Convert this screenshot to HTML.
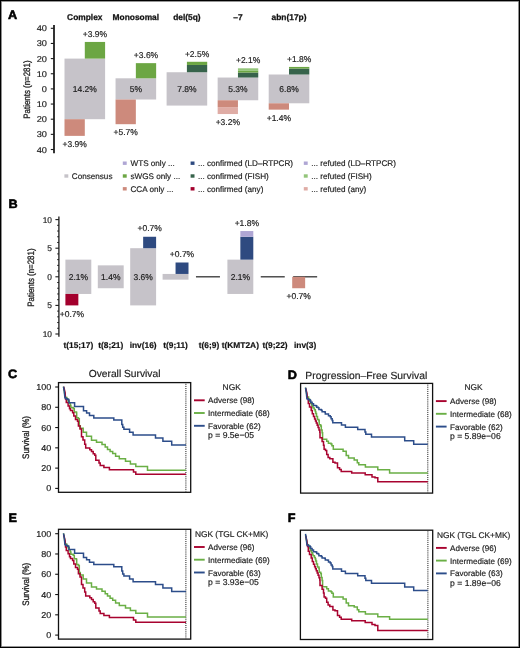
<!DOCTYPE html>
<html><head><meta charset="utf-8"><title>Figure</title>
<style>
html,body{margin:0;padding:0;background:#fff;}
body{width:520px;height:648px;overflow:hidden;position:relative;}
.frame{position:absolute;left:0;top:0;width:518px;height:646px;border:1px solid #000;box-shadow:inset 0 0 0 0.8px rgba(0,0,0,0.55);}
svg{position:absolute;left:0;top:0;filter:blur(0.3px);}
text{font-family:"Liberation Sans", sans-serif;text-rendering:geometricPrecision;}
</style></head><body>
<svg width="520" height="648" viewBox="0 0 520 648" shape-rendering="auto">
<text transform="translate(8.00,18.80) scale(1.04,1)" font-size="12.2" text-anchor="start" font-weight="bold" fill="#000" stroke="#000" stroke-width="0.55" >A</text>
<line x1="54.00" y1="25.00" x2="54.00" y2="153.20" stroke="#000" stroke-width="1.6" />
<line x1="50.80" y1="28.30" x2="54.00" y2="28.30" stroke="#1a1a1a" stroke-width="1.1" />
<text transform="translate(47.00,31.30) scale(1.1,1)" font-size="8.4" text-anchor="end" font-weight="normal" fill="#1e1e1e" stroke="#1e1e1e" stroke-width="0.18" >40</text>
<line x1="50.80" y1="43.45" x2="54.00" y2="43.45" stroke="#1a1a1a" stroke-width="1.1" />
<text transform="translate(47.00,46.45) scale(1.1,1)" font-size="8.4" text-anchor="end" font-weight="normal" fill="#1e1e1e" stroke="#1e1e1e" stroke-width="0.18" >30</text>
<line x1="50.80" y1="58.60" x2="54.00" y2="58.60" stroke="#1a1a1a" stroke-width="1.1" />
<text transform="translate(47.00,61.60) scale(1.1,1)" font-size="8.4" text-anchor="end" font-weight="normal" fill="#1e1e1e" stroke="#1e1e1e" stroke-width="0.18" >20</text>
<line x1="50.80" y1="73.75" x2="54.00" y2="73.75" stroke="#1a1a1a" stroke-width="1.1" />
<text transform="translate(47.00,76.75) scale(1.1,1)" font-size="8.4" text-anchor="end" font-weight="normal" fill="#1e1e1e" stroke="#1e1e1e" stroke-width="0.18" >10</text>
<line x1="50.80" y1="88.90" x2="54.00" y2="88.90" stroke="#1a1a1a" stroke-width="1.1" />
<text transform="translate(47.00,91.90) scale(1.1,1)" font-size="8.4" text-anchor="end" font-weight="normal" fill="#1e1e1e" stroke="#1e1e1e" stroke-width="0.18" >0</text>
<line x1="50.80" y1="104.05" x2="54.00" y2="104.05" stroke="#1a1a1a" stroke-width="1.1" />
<text transform="translate(47.00,107.05) scale(1.1,1)" font-size="8.4" text-anchor="end" font-weight="normal" fill="#1e1e1e" stroke="#1e1e1e" stroke-width="0.18" >10</text>
<line x1="50.80" y1="119.20" x2="54.00" y2="119.20" stroke="#1a1a1a" stroke-width="1.1" />
<text transform="translate(47.00,122.20) scale(1.1,1)" font-size="8.4" text-anchor="end" font-weight="normal" fill="#1e1e1e" stroke="#1e1e1e" stroke-width="0.18" >20</text>
<line x1="50.80" y1="134.35" x2="54.00" y2="134.35" stroke="#1a1a1a" stroke-width="1.1" />
<text transform="translate(47.00,137.35) scale(1.1,1)" font-size="8.4" text-anchor="end" font-weight="normal" fill="#1e1e1e" stroke="#1e1e1e" stroke-width="0.18" >30</text>
<line x1="50.80" y1="149.50" x2="54.00" y2="149.50" stroke="#1a1a1a" stroke-width="1.1" />
<text transform="translate(47.00,152.50) scale(1.1,1)" font-size="8.4" text-anchor="end" font-weight="normal" fill="#1e1e1e" stroke="#1e1e1e" stroke-width="0.18" >40</text>
<text transform="translate(30.0,89.6) rotate(-90) scale(0.85,1)" font-size="9.3" text-anchor="middle" fill="#1e1e1e" stroke="#1e1e1e" stroke-width="0.3">Patients (n=281)</text>
<rect x="64.50" y="58.60" width="40.60" height="60.60" fill="#c6c3c9"/>
<text x="84.80" y="19.60" font-size="8.4" text-anchor="middle" font-weight="bold" fill="#111" stroke="#111" stroke-width="0.25" >Complex</text>
<text x="84.80" y="92.00" font-size="8.5" text-anchor="middle" font-weight="normal" fill="#1e1e1e" stroke="#1e1e1e" stroke-width="0.18" >14.2%</text>
<rect x="84.80" y="41.94" width="20.30" height="16.66" fill="#6ca643"/>
<text x="94.95" y="36.84" font-size="8.5" text-anchor="middle" font-weight="normal" fill="#1e1e1e" stroke="#1e1e1e" stroke-width="0.18" >+3.9%</text>
<rect x="64.50" y="119.20" width="20.30" height="16.67" fill="#cd8a7c"/>
<text x="74.65" y="147.06" font-size="8.5" text-anchor="middle" font-weight="normal" fill="#1e1e1e" stroke="#1e1e1e" stroke-width="0.18" >+3.9%</text>
<rect x="115.55" y="78.30" width="40.60" height="21.21" fill="#c6c3c9"/>
<text x="135.85" y="19.60" font-size="8.4" text-anchor="middle" font-weight="bold" fill="#111" stroke="#111" stroke-width="0.25" >Monosomal</text>
<text x="135.85" y="92.00" font-size="8.5" text-anchor="middle" font-weight="normal" fill="#1e1e1e" stroke="#1e1e1e" stroke-width="0.18" >5%</text>
<rect x="135.85" y="63.15" width="20.30" height="15.15" fill="#6ca643"/>
<text x="146.00" y="58.05" font-size="8.5" text-anchor="middle" font-weight="normal" fill="#1e1e1e" stroke="#1e1e1e" stroke-width="0.18" >+3.6%</text>
<rect x="115.55" y="99.51" width="20.30" height="24.69" fill="#cd8a7c"/>
<text x="125.70" y="135.40" font-size="8.5" text-anchor="middle" font-weight="normal" fill="#1e1e1e" stroke="#1e1e1e" stroke-width="0.18" >+5.7%</text>
<rect x="166.60" y="72.24" width="40.60" height="33.33" fill="#c6c3c9"/>
<text x="186.90" y="19.60" font-size="8.4" text-anchor="middle" font-weight="bold" fill="#111" stroke="#111" stroke-width="0.25" >del(5q)</text>
<text x="186.90" y="92.00" font-size="8.5" text-anchor="middle" font-weight="normal" fill="#1e1e1e" stroke="#1e1e1e" stroke-width="0.18" >7.8%</text>
<rect x="186.90" y="64.96" width="20.30" height="7.27" fill="#37634b"/>
<rect x="186.90" y="61.78" width="20.30" height="3.18" fill="#6ca643"/>
<text x="197.05" y="56.68" font-size="8.5" text-anchor="middle" font-weight="normal" fill="#1e1e1e" stroke="#1e1e1e" stroke-width="0.18" >+2.5%</text>
<rect x="217.65" y="77.54" width="40.60" height="22.72" fill="#c6c3c9"/>
<text x="237.95" y="19.60" font-size="8.4" text-anchor="middle" font-weight="bold" fill="#111" stroke="#111" stroke-width="0.25" >&#8211;7</text>
<text x="237.95" y="92.00" font-size="8.5" text-anchor="middle" font-weight="normal" fill="#1e1e1e" stroke="#1e1e1e" stroke-width="0.18" >5.3%</text>
<rect x="237.95" y="72.54" width="20.30" height="5.00" fill="#37634b"/>
<rect x="237.95" y="70.87" width="20.30" height="1.67" fill="#6ca643"/>
<rect x="237.95" y="68.30" width="20.30" height="2.58" fill="#93c57a"/>
<text x="248.10" y="63.20" font-size="8.5" text-anchor="middle" font-weight="normal" fill="#1e1e1e" stroke="#1e1e1e" stroke-width="0.18" >+2.1%</text>
<rect x="217.65" y="100.26" width="20.30" height="6.82" fill="#cd8a7c"/>
<rect x="217.65" y="107.08" width="20.30" height="6.97" fill="#dfaca5"/>
<text x="227.80" y="125.25" font-size="8.5" text-anchor="middle" font-weight="normal" fill="#1e1e1e" stroke="#1e1e1e" stroke-width="0.18" >+3.2%</text>
<rect x="268.70" y="74.51" width="40.60" height="28.78" fill="#c6c3c9"/>
<text x="289.00" y="19.60" font-size="8.4" text-anchor="middle" font-weight="bold" fill="#111" stroke="#111" stroke-width="0.25" >abn(17p)</text>
<text x="289.00" y="92.00" font-size="8.5" text-anchor="middle" font-weight="normal" fill="#1e1e1e" stroke="#1e1e1e" stroke-width="0.18" >6.8%</text>
<rect x="289.00" y="68.60" width="20.30" height="5.91" fill="#37634b"/>
<rect x="289.00" y="66.93" width="20.30" height="1.67" fill="#6ca643"/>
<text x="299.15" y="61.83" font-size="8.5" text-anchor="middle" font-weight="normal" fill="#1e1e1e" stroke="#1e1e1e" stroke-width="0.18" >+1.8%</text>
<rect x="268.70" y="103.29" width="20.30" height="6.36" fill="#cd8a7c"/>
<text x="278.85" y="120.86" font-size="8.5" text-anchor="middle" font-weight="normal" fill="#1e1e1e" stroke="#1e1e1e" stroke-width="0.18" >+1.4%</text>
<rect x="64.40" y="174.30" width="3.90" height="3.40" fill="#c6c3c9"/>
<text x="71.80" y="178.90" font-size="8.15" text-anchor="start" font-weight="normal" fill="#1e1e1e" stroke="#1e1e1e" stroke-width="0.18" >Consensus</text>
<rect x="122.80" y="161.50" width="3.90" height="3.40" fill="#afa6d4"/>
<text x="130.50" y="166.10" font-size="8.15" text-anchor="start" font-weight="normal" fill="#1e1e1e" stroke="#1e1e1e" stroke-width="0.18" >WTS only ...</text>
<rect x="122.80" y="174.30" width="3.90" height="3.40" fill="#6ca643"/>
<text x="130.50" y="178.90" font-size="8.15" text-anchor="start" font-weight="normal" fill="#1e1e1e" stroke="#1e1e1e" stroke-width="0.18" >sWGS only ...</text>
<rect x="122.80" y="187.10" width="3.90" height="3.40" fill="#cd8a7c"/>
<text x="130.50" y="191.70" font-size="8.15" text-anchor="start" font-weight="normal" fill="#1e1e1e" stroke="#1e1e1e" stroke-width="0.18" >CCA only ...</text>
<rect x="190.60" y="161.50" width="3.90" height="3.40" fill="#2e4a80"/>
<text x="197.90" y="166.10" font-size="8.15" text-anchor="start" font-weight="normal" fill="#1e1e1e" stroke="#1e1e1e" stroke-width="0.18" >... confirmed (LD&#8211;RTPCR)</text>
<rect x="190.60" y="174.30" width="3.90" height="3.40" fill="#37634b"/>
<text x="197.90" y="178.90" font-size="8.15" text-anchor="start" font-weight="normal" fill="#1e1e1e" stroke="#1e1e1e" stroke-width="0.18" >... confirmed (FISH)</text>
<rect x="190.60" y="187.10" width="3.90" height="3.40" fill="#a3002d"/>
<text x="197.90" y="191.70" font-size="8.15" text-anchor="start" font-weight="normal" fill="#1e1e1e" stroke="#1e1e1e" stroke-width="0.18" >... confirmed (any)</text>
<rect x="303.80" y="161.50" width="3.90" height="3.40" fill="#afa6d4"/>
<text x="311.20" y="166.10" font-size="8.15" text-anchor="start" font-weight="normal" fill="#1e1e1e" stroke="#1e1e1e" stroke-width="0.18" >... refuted (LD&#8211;RTPCR)</text>
<rect x="303.80" y="174.30" width="3.90" height="3.40" fill="#93c57a"/>
<text x="311.20" y="178.90" font-size="8.15" text-anchor="start" font-weight="normal" fill="#1e1e1e" stroke="#1e1e1e" stroke-width="0.18" >... refuted (FISH)</text>
<rect x="303.80" y="187.10" width="3.90" height="3.40" fill="#dfaca5"/>
<text x="311.20" y="191.70" font-size="8.15" text-anchor="start" font-weight="normal" fill="#1e1e1e" stroke="#1e1e1e" stroke-width="0.18" >... refuted (any)</text>
<text transform="translate(8.40,207.90) scale(1.04,1)" font-size="12.2" text-anchor="start" font-weight="bold" fill="#000" stroke="#000" stroke-width="0.55" >B</text>
<line x1="58.90" y1="216.40" x2="58.90" y2="336.80" stroke="#1a1a1a" stroke-width="1.3" />
<line x1="55.40" y1="334.00" x2="58.90" y2="334.00" stroke="#1a1a1a" stroke-width="1.1" />
<text x="52.00" y="337.00" font-size="8.4" text-anchor="end" font-weight="normal" fill="#1e1e1e" stroke="#1e1e1e" stroke-width="0.18" >10</text>
<line x1="57.20" y1="328.28" x2="58.90" y2="328.28" stroke="#1a1a1a" stroke-width="1.0" />
<line x1="57.20" y1="322.56" x2="58.90" y2="322.56" stroke="#1a1a1a" stroke-width="1.0" />
<line x1="57.20" y1="316.84" x2="58.90" y2="316.84" stroke="#1a1a1a" stroke-width="1.0" />
<line x1="57.20" y1="311.12" x2="58.90" y2="311.12" stroke="#1a1a1a" stroke-width="1.0" />
<line x1="55.40" y1="305.40" x2="58.90" y2="305.40" stroke="#1a1a1a" stroke-width="1.1" />
<text x="52.00" y="308.40" font-size="8.4" text-anchor="end" font-weight="normal" fill="#1e1e1e" stroke="#1e1e1e" stroke-width="0.18" >5</text>
<line x1="57.20" y1="299.68" x2="58.90" y2="299.68" stroke="#1a1a1a" stroke-width="1.0" />
<line x1="57.20" y1="293.96" x2="58.90" y2="293.96" stroke="#1a1a1a" stroke-width="1.0" />
<line x1="57.20" y1="288.24" x2="58.90" y2="288.24" stroke="#1a1a1a" stroke-width="1.0" />
<line x1="57.20" y1="282.52" x2="58.90" y2="282.52" stroke="#1a1a1a" stroke-width="1.0" />
<line x1="55.40" y1="276.80" x2="58.90" y2="276.80" stroke="#1a1a1a" stroke-width="1.1" />
<text x="52.00" y="279.80" font-size="8.4" text-anchor="end" font-weight="normal" fill="#1e1e1e" stroke="#1e1e1e" stroke-width="0.18" >0</text>
<line x1="57.20" y1="271.08" x2="58.90" y2="271.08" stroke="#1a1a1a" stroke-width="1.0" />
<line x1="57.20" y1="265.36" x2="58.90" y2="265.36" stroke="#1a1a1a" stroke-width="1.0" />
<line x1="57.20" y1="259.64" x2="58.90" y2="259.64" stroke="#1a1a1a" stroke-width="1.0" />
<line x1="57.20" y1="253.92" x2="58.90" y2="253.92" stroke="#1a1a1a" stroke-width="1.0" />
<line x1="55.40" y1="248.20" x2="58.90" y2="248.20" stroke="#1a1a1a" stroke-width="1.1" />
<text x="52.00" y="251.20" font-size="8.4" text-anchor="end" font-weight="normal" fill="#1e1e1e" stroke="#1e1e1e" stroke-width="0.18" >5</text>
<line x1="57.20" y1="242.48" x2="58.90" y2="242.48" stroke="#1a1a1a" stroke-width="1.0" />
<line x1="57.20" y1="236.76" x2="58.90" y2="236.76" stroke="#1a1a1a" stroke-width="1.0" />
<line x1="57.20" y1="231.04" x2="58.90" y2="231.04" stroke="#1a1a1a" stroke-width="1.0" />
<line x1="57.20" y1="225.32" x2="58.90" y2="225.32" stroke="#1a1a1a" stroke-width="1.0" />
<line x1="55.40" y1="219.60" x2="58.90" y2="219.60" stroke="#1a1a1a" stroke-width="1.1" />
<text x="52.00" y="222.60" font-size="8.4" text-anchor="end" font-weight="normal" fill="#1e1e1e" stroke="#1e1e1e" stroke-width="0.18" >10</text>
<text transform="translate(34.0,277.6) rotate(-90) scale(0.85,1)" font-size="9.3" text-anchor="middle" fill="#1e1e1e" stroke="#1e1e1e" stroke-width="0.3">Patients (n=281)</text>
<text x="78.35" y="347.90" font-size="8.4" text-anchor="middle" font-weight="bold" fill="#111" stroke="#111" stroke-width="0.18" >t(15;17)</text>
<rect x="65.40" y="259.64" width="25.90" height="34.32" fill="#c6c3c9"/>
<text x="78.35" y="279.80" font-size="8.5" text-anchor="middle" font-weight="normal" fill="#1e1e1e" stroke="#1e1e1e" stroke-width="0.18" >2.1%</text>
<rect x="65.40" y="293.96" width="12.95" height="11.44" fill="#a3002d"/>
<text x="71.88" y="316.50" font-size="8.5" text-anchor="middle" font-weight="normal" fill="#1e1e1e" stroke="#1e1e1e" stroke-width="0.18" >+0.7%</text>
<text x="110.75" y="347.90" font-size="8.4" text-anchor="middle" font-weight="bold" fill="#111" stroke="#111" stroke-width="0.18" >t(8;21)</text>
<rect x="97.80" y="265.36" width="25.90" height="22.88" fill="#c6c3c9"/>
<text x="110.75" y="279.80" font-size="8.5" text-anchor="middle" font-weight="normal" fill="#1e1e1e" stroke="#1e1e1e" stroke-width="0.18" >1.4%</text>
<text x="143.15" y="347.90" font-size="8.4" text-anchor="middle" font-weight="bold" fill="#111" stroke="#111" stroke-width="0.18" >inv(16)</text>
<rect x="130.20" y="248.20" width="25.90" height="57.20" fill="#c6c3c9"/>
<text x="143.15" y="279.80" font-size="8.5" text-anchor="middle" font-weight="normal" fill="#1e1e1e" stroke="#1e1e1e" stroke-width="0.18" >3.6%</text>
<rect x="143.15" y="236.76" width="12.95" height="11.44" fill="#2e4a80"/>
<text x="149.62" y="231.46" font-size="8.5" text-anchor="middle" font-weight="normal" fill="#1e1e1e" stroke="#1e1e1e" stroke-width="0.18" >+0.7%</text>
<text x="175.55" y="347.90" font-size="8.4" text-anchor="middle" font-weight="bold" fill="#111" stroke="#111" stroke-width="0.18" >t(9;11)</text>
<rect x="162.60" y="273.94" width="25.90" height="5.72" fill="#c6c3c9"/>
<rect x="175.55" y="262.50" width="12.95" height="11.44" fill="#2e4a80"/>
<text x="182.02" y="257.20" font-size="8.5" text-anchor="middle" font-weight="normal" fill="#1e1e1e" stroke="#1e1e1e" stroke-width="0.18" >+0.7%</text>
<text x="208.95" y="347.90" font-size="8.4" text-anchor="middle" font-weight="bold" fill="#111" stroke="#111" stroke-width="0.18" >t(6;9)</text>
<line x1="195.95" y1="276.80" x2="219.95" y2="276.80" stroke="#333" stroke-width="1.3" />
<text x="240.35" y="347.90" font-size="8.4" text-anchor="middle" font-weight="bold" fill="#111" stroke="#111" stroke-width="0.18" >t(KMT2A)</text>
<rect x="227.40" y="259.64" width="25.90" height="34.32" fill="#c6c3c9"/>
<text x="240.35" y="279.80" font-size="8.5" text-anchor="middle" font-weight="normal" fill="#1e1e1e" stroke="#1e1e1e" stroke-width="0.18" >2.1%</text>
<rect x="240.35" y="236.76" width="12.95" height="22.88" fill="#2e4a80"/>
<rect x="240.35" y="231.04" width="12.95" height="5.72" fill="#afa6d4"/>
<text x="246.82" y="225.74" font-size="8.5" text-anchor="middle" font-weight="normal" fill="#1e1e1e" stroke="#1e1e1e" stroke-width="0.18" >+1.8%</text>
<text x="275.05" y="347.90" font-size="8.4" text-anchor="middle" font-weight="bold" fill="#111" stroke="#111" stroke-width="0.18" >t(9;22)</text>
<line x1="260.75" y1="276.80" x2="284.75" y2="276.80" stroke="#333" stroke-width="1.3" />
<text x="305.15" y="347.90" font-size="8.4" text-anchor="middle" font-weight="bold" fill="#111" stroke="#111" stroke-width="0.18" >inv(3)</text>
<line x1="293.15" y1="276.80" x2="317.15" y2="276.80" stroke="#333" stroke-width="1.3" />
<rect x="292.20" y="276.80" width="12.95" height="11.44" fill="#cd8a7c"/>
<text x="298.67" y="299.34" font-size="8.5" text-anchor="middle" font-weight="normal" fill="#1e1e1e" stroke="#1e1e1e" stroke-width="0.18" >+0.7%</text>
<text transform="translate(8.10,378.30) scale(1.04,1)" font-size="12.2" text-anchor="start" font-weight="bold" fill="#000" stroke="#000" stroke-width="0.55" >C</text>
<rect x="58.50" y="382.60" width="132.20" height="109.70" fill="none" stroke="#111" stroke-width="1.3"/>
<line x1="185.90" y1="383.80" x2="185.90" y2="491.50" stroke="#1a1a1a" stroke-width="1.0" stroke-dasharray="1.05,1.05"/>
<text x="124.60" y="376.70" font-size="10.25" text-anchor="middle" font-weight="normal" fill="#1e1e1e" stroke="#1e1e1e" stroke-width="0.18" >Overall Survival</text>
<line x1="55.20" y1="387.00" x2="58.50" y2="387.00" stroke="#111" stroke-width="1.1" />
<text transform="translate(51.20,390.00) scale(1.05,1)" font-size="8.6" text-anchor="end" font-weight="normal" fill="#1e1e1e" stroke="#1e1e1e" stroke-width="0.18" >100</text>
<line x1="55.20" y1="407.28" x2="58.50" y2="407.28" stroke="#111" stroke-width="1.1" />
<text transform="translate(51.20,410.28) scale(1.05,1)" font-size="8.6" text-anchor="end" font-weight="normal" fill="#1e1e1e" stroke="#1e1e1e" stroke-width="0.18" >80</text>
<line x1="55.20" y1="427.56" x2="58.50" y2="427.56" stroke="#111" stroke-width="1.1" />
<text transform="translate(51.20,430.56) scale(1.05,1)" font-size="8.6" text-anchor="end" font-weight="normal" fill="#1e1e1e" stroke="#1e1e1e" stroke-width="0.18" >60</text>
<line x1="55.20" y1="447.84" x2="58.50" y2="447.84" stroke="#111" stroke-width="1.1" />
<text transform="translate(51.20,450.84) scale(1.05,1)" font-size="8.6" text-anchor="end" font-weight="normal" fill="#1e1e1e" stroke="#1e1e1e" stroke-width="0.18" >40</text>
<line x1="55.20" y1="468.12" x2="58.50" y2="468.12" stroke="#111" stroke-width="1.1" />
<text transform="translate(51.20,471.12) scale(1.05,1)" font-size="8.6" text-anchor="end" font-weight="normal" fill="#1e1e1e" stroke="#1e1e1e" stroke-width="0.18" >20</text>
<line x1="55.20" y1="488.40" x2="58.50" y2="488.40" stroke="#111" stroke-width="1.1" />
<text transform="translate(51.20,491.40) scale(1.05,1)" font-size="8.6" text-anchor="end" font-weight="normal" fill="#1e1e1e" stroke="#1e1e1e" stroke-width="0.18" >0</text>
<text transform="translate(28.50,437.45) rotate(-90) scale(0.85,1)" font-size="9.4" text-anchor="middle" fill="#1e1e1e" stroke="#1e1e1e" stroke-width="0.3">Survival (%)</text>
<path d="M63.50,386.60L64.30,391.00L64.90,395.50L66.00,397.50H66.90V399.00H68.00V401.00H69.20V403.00H70.20V405.30H70.90V407.50H73.20V408.60H74.30V412.10H76.50V413.00H76.70V417.80H78.40V418.70H79.30V425.80H80.30V428.30H83.20V432.20H86.50V436.20H91.50V440.30H96.50V442.30H102.00V444.50H105.20V447.00H107.50V449.40H110.10V451.60H112.70V453.60H115.60V456.20H119.30V458.80H125.50V461.20H130.40V463.90H135.80V466.60H147.50V470.30H186.00" fill="none" stroke="#6aaf45" stroke-width="1.5" stroke-linejoin="miter"/>
<path d="M63.60,386.80L64.30,389.20L65.20,393.20L65.50,399.00H66.30V402.50H68.10V405.90H69.50V408.80H70.50V410.50H72.60V412.70H73.80V416.10H75.50V419.60H77.50V421.30H78.40V425.90H80.00V429.00H81.50V431.00V436.70H83.00V440.00H84.70V444.20H85.70V448.00H89.80V449.80H91.50V451.50H93.20V453.80H94.80V455.30H95.80V460.20H99.00V463.00H100.20V465.60H103.90V467.50H109.40V469.70H133.50V472.00H135.80V474.30H186.00" fill="none" stroke="#a8032f" stroke-width="1.5" stroke-linejoin="miter"/>
<path d="M63.50,386.60L64.30,391.50L64.90,397.80H65.80V398.70H67.50V399.60H68.90V402.80H74.60V406.60H83.50V410.80H86.60V413.00H89.50V415.50H93.80V417.90H113.80V420.10H121.80V424.40H122.70V427.30H123.90V429.30H129.60V432.20H133.10V435.00H155.50V437.90H162.90V441.30H171.70V444.90H186.00" fill="none" stroke="#2c4d8a" stroke-width="1.5" stroke-linejoin="miter"/>
<text x="231.70" y="389.60" font-size="8.4" text-anchor="middle" font-weight="normal" fill="#1e1e1e" stroke="#1e1e1e" stroke-width="0.18" >NGK</text>
<line x1="194.00" y1="400.30" x2="204.70" y2="400.30" stroke="#a8032f" stroke-width="1.9" />
<text x="208.10" y="403.30" font-size="8.1" text-anchor="start" font-weight="normal" fill="#1e1e1e" stroke="#1e1e1e" stroke-width="0.18" >Adverse (98)</text>
<line x1="194.00" y1="413.00" x2="204.70" y2="413.00" stroke="#6aaf45" stroke-width="1.9" />
<text x="208.10" y="416.00" font-size="8.1" text-anchor="start" font-weight="normal" fill="#1e1e1e" stroke="#1e1e1e" stroke-width="0.18" >Intermediate (68)</text>
<line x1="194.00" y1="425.80" x2="204.70" y2="425.80" stroke="#2c4d8a" stroke-width="1.9" />
<text x="208.10" y="428.80" font-size="8.1" text-anchor="start" font-weight="normal" fill="#1e1e1e" stroke="#1e1e1e" stroke-width="0.18" >Favorable (62)</text>
<text x="208.10" y="438.20" font-size="8.6" text-anchor="start" font-weight="normal" fill="#1e1e1e" stroke="#1e1e1e" stroke-width="0.18" >p = 9.5e&#8722;05</text>
<text transform="translate(287.80,378.50) scale(1.04,1)" font-size="12.2" text-anchor="start" font-weight="bold" fill="#000" stroke="#000" stroke-width="0.55" >D</text>
<rect x="300.60" y="383.40" width="132.00" height="109.70" fill="none" stroke="#111" stroke-width="1.3"/>
<line x1="427.80" y1="384.60" x2="427.80" y2="492.30" stroke="#1a1a1a" stroke-width="1.0" stroke-dasharray="1.05,1.05"/>
<text x="366.30" y="378.60" font-size="10.35" text-anchor="middle" font-weight="normal" fill="#1e1e1e" stroke="#1e1e1e" stroke-width="0.18" >Progression&#8211;Free Survival</text>
<path d="M305.50,387.60L306.30,392.00L307.00,395.50L307.80,397.10H308.60V399.00H309.50V401.20H310.60V403.20H311.80V405.20H312.40V406.70H313.00V408.10H314.40V409.80H315.30V411.50H315.80V413.50H316.50V416.50H317.50V419.50H318.90V420.70H319.20V424.70H320.70V425.90H321.30V429.90H322.10V432.80H322.60V439.20H326.70V441.20H328.40V443.30H331.00V444.10H331.90V445.70H333.30V449.30H343.10V451.30H346.20V455.40H348.50V458.10H354.20V460.00H357.30V462.70H358.80V464.80H365.40V466.90H377.80V469.70H389.60V473.10H427.80" fill="none" stroke="#6aaf45" stroke-width="1.5" stroke-linejoin="miter"/>
<path d="M305.80,388.30L306.90,393.10L307.50,398.80H308.30V403.50H309.50V406.90H311.20V410.40H312.30V413.80H313.50V416.50H314.60V419.00H315.50V421.00H316.30V423.00H317.20V425.30H318.10V427.60H319.00V430.00H319.80V432.20H320.00V437.80H322.10V441.50H323.50V445.30H324.10V449.30H325.50V450.50H326.70V454.50H328.10V457.40H329.80V458.80H332.90V462.30H335.00V463.10H337.50V467.70H339.60V469.60H341.20V471.50H351.70V473.10H365.20V474.80H372.00V476.90H375.00V477.70H377.80V481.80H427.80" fill="none" stroke="#a8032f" stroke-width="1.5" stroke-linejoin="miter"/>
<path d="M305.50,387.60L306.30,392.50L306.90,398.80H308.30V399.70H310.10V400.60H310.70V402.30H312.10V403.80H313.50V405.50H315.80V405.80H316.70V407.20H318.20V407.80H318.90V409.50H321.30V410.30H322.10V411.70H324.70V412.00H325.30V413.90H327.90V414.10H328.50V415.80H330.20V416.70H331.10V418.70H332.20V420.40H332.80V422.70H341.50V425.00H345.40V427.20H357.70V429.60H365.00V432.10H365.80V434.20H371.50V437.00H404.70V440.80H413.70V444.30H427.80" fill="none" stroke="#2c4d8a" stroke-width="1.5" stroke-linejoin="miter"/>
<text x="473.60" y="390.40" font-size="8.4" text-anchor="middle" font-weight="normal" fill="#1e1e1e" stroke="#1e1e1e" stroke-width="0.18" >NGK</text>
<line x1="435.90" y1="401.10" x2="446.60" y2="401.10" stroke="#a8032f" stroke-width="1.9" />
<text x="450.00" y="404.10" font-size="8.1" text-anchor="start" font-weight="normal" fill="#1e1e1e" stroke="#1e1e1e" stroke-width="0.18" >Adverse (98)</text>
<line x1="435.90" y1="413.80" x2="446.60" y2="413.80" stroke="#6aaf45" stroke-width="1.9" />
<text x="450.00" y="416.80" font-size="8.1" text-anchor="start" font-weight="normal" fill="#1e1e1e" stroke="#1e1e1e" stroke-width="0.18" >Intermediate (68)</text>
<line x1="435.90" y1="426.60" x2="446.60" y2="426.60" stroke="#2c4d8a" stroke-width="1.9" />
<text x="450.00" y="429.60" font-size="8.1" text-anchor="start" font-weight="normal" fill="#1e1e1e" stroke="#1e1e1e" stroke-width="0.18" >Favorable (62)</text>
<text x="450.00" y="439.00" font-size="8.6" text-anchor="start" font-weight="normal" fill="#1e1e1e" stroke="#1e1e1e" stroke-width="0.18" >p = 5.89e&#8722;06</text>
<text transform="translate(8.40,521.80) scale(1.04,1)" font-size="12.2" text-anchor="start" font-weight="bold" fill="#000" stroke="#000" stroke-width="0.55" >E</text>
<rect x="58.50" y="529.30" width="132.20" height="109.80" fill="none" stroke="#111" stroke-width="1.3"/>
<line x1="185.90" y1="530.50" x2="185.90" y2="638.30" stroke="#1a1a1a" stroke-width="1.0" stroke-dasharray="1.05,1.05"/>
<line x1="55.20" y1="533.70" x2="58.50" y2="533.70" stroke="#111" stroke-width="1.1" />
<text transform="translate(51.20,536.70) scale(1.05,1)" font-size="8.6" text-anchor="end" font-weight="normal" fill="#1e1e1e" stroke="#1e1e1e" stroke-width="0.18" >100</text>
<line x1="55.20" y1="553.98" x2="58.50" y2="553.98" stroke="#111" stroke-width="1.1" />
<text transform="translate(51.20,556.98) scale(1.05,1)" font-size="8.6" text-anchor="end" font-weight="normal" fill="#1e1e1e" stroke="#1e1e1e" stroke-width="0.18" >80</text>
<line x1="55.20" y1="574.26" x2="58.50" y2="574.26" stroke="#111" stroke-width="1.1" />
<text transform="translate(51.20,577.26) scale(1.05,1)" font-size="8.6" text-anchor="end" font-weight="normal" fill="#1e1e1e" stroke="#1e1e1e" stroke-width="0.18" >60</text>
<line x1="55.20" y1="594.54" x2="58.50" y2="594.54" stroke="#111" stroke-width="1.1" />
<text transform="translate(51.20,597.54) scale(1.05,1)" font-size="8.6" text-anchor="end" font-weight="normal" fill="#1e1e1e" stroke="#1e1e1e" stroke-width="0.18" >40</text>
<line x1="55.20" y1="614.82" x2="58.50" y2="614.82" stroke="#111" stroke-width="1.1" />
<text transform="translate(51.20,617.82) scale(1.05,1)" font-size="8.6" text-anchor="end" font-weight="normal" fill="#1e1e1e" stroke="#1e1e1e" stroke-width="0.18" >20</text>
<line x1="55.20" y1="635.10" x2="58.50" y2="635.10" stroke="#111" stroke-width="1.1" />
<text transform="translate(51.20,638.10) scale(1.05,1)" font-size="8.6" text-anchor="end" font-weight="normal" fill="#1e1e1e" stroke="#1e1e1e" stroke-width="0.18" >0</text>
<text transform="translate(28.50,584.20) rotate(-90) scale(0.85,1)" font-size="9.4" text-anchor="middle" fill="#1e1e1e" stroke="#1e1e1e" stroke-width="0.3">Survival (%)</text>
<path d="M63.50,533.30L64.30,537.70L64.90,542.20L66.00,544.20H66.90V545.70H68.00V547.70H69.20V549.70H70.20V552.00H70.90V554.20H73.20V555.30H74.30V558.80H76.50V559.70H76.70V564.50H78.40V565.40H79.30V572.50H80.30V575.00H83.20V578.90H86.50V582.90H91.50V587.00H96.50V589.00H102.00V591.20H105.20V593.70H107.50V596.10H110.10V598.30H112.70V600.30H115.60V602.90H119.30V605.50H125.50V607.90H130.40V610.60H135.80V613.30H147.50V617.00H186.00" fill="none" stroke="#6aaf45" stroke-width="1.5" stroke-linejoin="miter"/>
<path d="M63.60,534.70L64.30,537.10L65.20,541.10L65.50,546.90H66.30V550.40H68.10V553.80H69.50V556.70H70.50V558.40H72.60V560.60H73.80V564.00H75.50V567.50H77.50V569.20H78.40V573.80H80.00V576.90H81.50V578.90V584.60H83.00V587.90H84.70V592.10H85.70V595.90H89.80V597.70H91.50V599.40H93.20V601.70H94.80V603.20H95.80V608.10H99.00V610.90H100.20V613.50H103.90V615.40H109.40V617.60H133.50V619.90H135.80V622.20H186.00" fill="none" stroke="#a8032f" stroke-width="1.5" stroke-linejoin="miter"/>
<path d="M63.50,533.30L64.30,538.20L64.90,544.50H65.80V545.40H67.50V546.30H68.90V549.50H74.60V553.30H83.50V557.50H86.60V559.70H89.50V562.20H93.80V564.60H113.80V566.80H121.80V571.10H122.70V574.00H123.90V576.00H129.60V578.90H133.10V581.70H155.50V584.60H162.90V588.00H171.70V591.60H186.00" fill="none" stroke="#2c4d8a" stroke-width="1.5" stroke-linejoin="miter"/>
<text x="194.90" y="537.20" font-size="8.4" text-anchor="start" font-weight="normal" fill="#1e1e1e" stroke="#1e1e1e" stroke-width="0.18" >NGK (TGL CK+MK)</text>
<line x1="194.00" y1="547.00" x2="204.70" y2="547.00" stroke="#a8032f" stroke-width="1.9" />
<text x="208.10" y="550.00" font-size="8.1" text-anchor="start" font-weight="normal" fill="#1e1e1e" stroke="#1e1e1e" stroke-width="0.18" >Adverse (96)</text>
<line x1="194.00" y1="559.70" x2="204.70" y2="559.70" stroke="#6aaf45" stroke-width="1.9" />
<text x="208.10" y="562.70" font-size="8.1" text-anchor="start" font-weight="normal" fill="#1e1e1e" stroke="#1e1e1e" stroke-width="0.18" >Intermediate (69)</text>
<line x1="194.00" y1="572.50" x2="204.70" y2="572.50" stroke="#2c4d8a" stroke-width="1.9" />
<text x="208.10" y="575.50" font-size="8.1" text-anchor="start" font-weight="normal" fill="#1e1e1e" stroke="#1e1e1e" stroke-width="0.18" >Favorable (63)</text>
<text x="208.10" y="584.90" font-size="8.6" text-anchor="start" font-weight="normal" fill="#1e1e1e" stroke="#1e1e1e" stroke-width="0.18" >p = 3.93e&#8722;05</text>
<text transform="translate(287.80,521.70) scale(1.04,1)" font-size="12.2" text-anchor="start" font-weight="bold" fill="#000" stroke="#000" stroke-width="0.55" >F</text>
<rect x="300.40" y="530.20" width="132.30" height="109.30" fill="none" stroke="#111" stroke-width="1.3"/>
<line x1="427.90" y1="531.40" x2="427.90" y2="638.70" stroke="#1a1a1a" stroke-width="1.0" stroke-dasharray="1.05,1.05"/>
<path d="M305.50,535.20L306.30,539.60L307.00,543.10L307.80,544.70H308.60V546.60H309.50V548.80H310.60V550.80H311.80V552.80H312.40V554.30H313.00V555.70H314.40V557.40H315.30V559.10H315.80V561.10H316.50V564.10H317.50V567.10H318.90V568.30H319.20V572.30H320.70V573.50H321.30V577.50H322.10V580.40H322.60V586.80H326.70V588.80H328.40V590.90H331.00V591.70H331.90V593.30H333.30V596.90H343.10V598.90H346.20V603.00H348.50V605.70H354.20V607.00H357.30V609.70H358.80V611.80H365.40V613.90H377.80V616.70H389.60V619.30H427.80" fill="none" stroke="#6aaf45" stroke-width="1.5" stroke-linejoin="miter"/>
<path d="M305.80,536.00L306.90,540.80L307.50,546.50H308.30V551.20H309.50V554.60H311.20V558.10H312.30V561.50H313.50V564.20H314.60V566.70H315.50V568.70H316.30V570.70H317.20V573.00H318.10V575.30H319.00V577.70H319.80V579.90H320.00V585.50H322.10V589.20H323.50V593.00H324.10V597.00H325.50V598.20H326.70V602.20H328.10V605.10H329.80V606.50H332.90V610.00H335.00V610.80H337.50V615.40H339.60V617.30H341.20V619.20H351.70V620.80H365.20V622.50H372.00V624.60H375.00V625.40H377.80V630.40H427.80" fill="none" stroke="#a8032f" stroke-width="1.5" stroke-linejoin="miter"/>
<path d="M305.50,533.80L306.30,538.70L306.90,545.00H308.30V545.90H310.10V546.80H310.70V548.50H312.10V550.00H313.50V551.70H315.80V552.00H316.70V553.40H318.20V554.00H318.90V555.70H321.30V556.50H322.10V557.90H324.70V558.20H325.30V560.10H327.90V560.30H328.50V562.00H330.20V562.90H331.10V564.90H332.20V566.60H332.80V568.90H341.50V571.20H345.40V573.40H357.70V575.80H365.00V578.30H365.80V580.40H371.50V583.20H404.70V587.00H413.70V590.50H427.80" fill="none" stroke="#2c4d8a" stroke-width="1.5" stroke-linejoin="miter"/>
<text x="436.90" y="538.10" font-size="8.4" text-anchor="start" font-weight="normal" fill="#1e1e1e" stroke="#1e1e1e" stroke-width="0.18" >NGK (TGL CK+MK)</text>
<line x1="436.00" y1="547.90" x2="446.70" y2="547.90" stroke="#a8032f" stroke-width="1.9" />
<text x="450.10" y="550.90" font-size="8.1" text-anchor="start" font-weight="normal" fill="#1e1e1e" stroke="#1e1e1e" stroke-width="0.18" >Adverse (96)</text>
<line x1="436.00" y1="560.60" x2="446.70" y2="560.60" stroke="#6aaf45" stroke-width="1.9" />
<text x="450.10" y="563.60" font-size="8.1" text-anchor="start" font-weight="normal" fill="#1e1e1e" stroke="#1e1e1e" stroke-width="0.18" >Intermediate (69)</text>
<line x1="436.00" y1="573.40" x2="446.70" y2="573.40" stroke="#2c4d8a" stroke-width="1.9" />
<text x="450.10" y="576.40" font-size="8.1" text-anchor="start" font-weight="normal" fill="#1e1e1e" stroke="#1e1e1e" stroke-width="0.18" >Favorable (63)</text>
<text x="450.10" y="585.80" font-size="8.6" text-anchor="start" font-weight="normal" fill="#1e1e1e" stroke="#1e1e1e" stroke-width="0.18" >p = 1.89e&#8722;06</text>
</svg>
<div class="frame"></div>
</body></html>
